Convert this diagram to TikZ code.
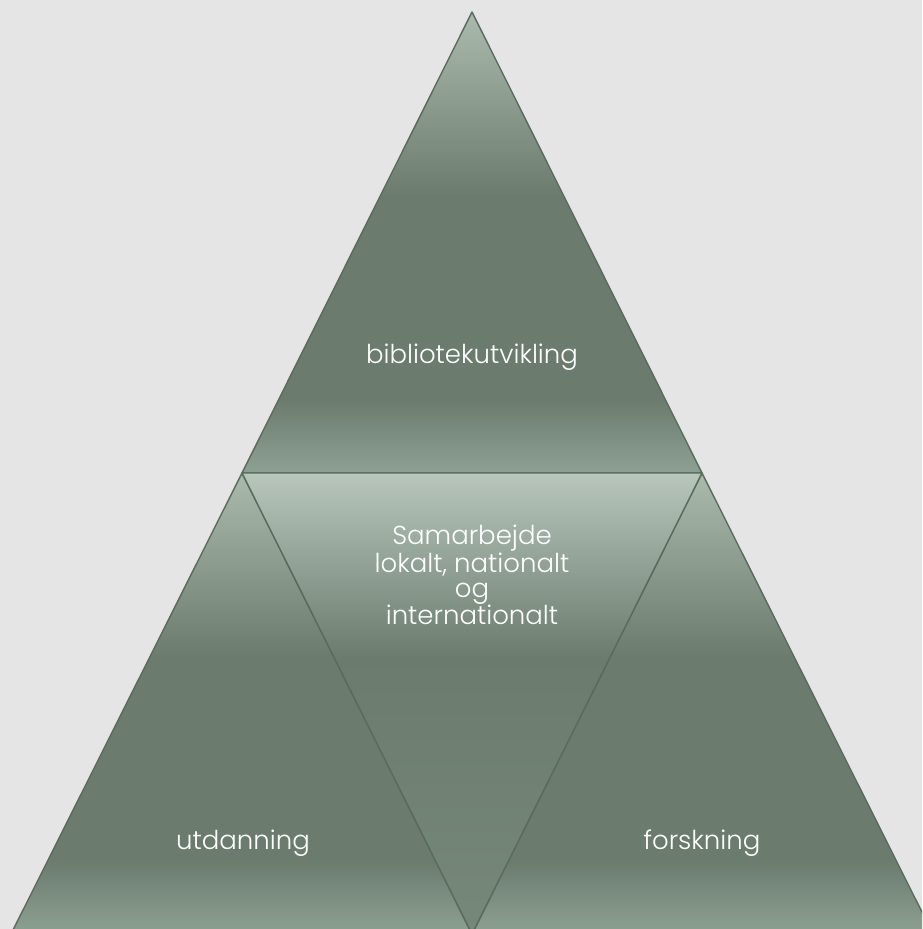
\documentclass[tikz,border=0pt]{standalone}
\usepackage{fontspec}
\newfontfamily\labelfont{Poppins}[UprightFont=* Light]
\usepackage{tikz}

\definecolor{paper}{RGB}{229,229,229}
\definecolor{edgegreen}{RGB}{88,108,93}
\definecolor{tiplight}{RGB}{170,186,173}
\definecolor{centerlight}{RGB}{184,198,187}
\definecolor{bodydark}{RGB}{107,124,111}
\definecolor{footmid}{RGB}{141,161,147}
\definecolor{centerfoot}{RGB}{118,136,122}

\pgfdeclareverticalshading{pyramidshade}{100bp}{color(0bp)=(footmid); color(25bp)=(footmid); color(33bp)=(bodydark); color(55bp)=(bodydark); color(75bp)=(tiplight); color(100bp)=(tiplight)}
\pgfdeclareverticalshading{centershade}{100bp}{color(0bp)=(centerfoot); color(25bp)=(centerfoot); color(55bp)=(bodydark); color(75bp)=(centerlight); color(100bp)=(centerlight)}

\tikzset{
  part/.style={draw=edgegreen, line width=1.4pt, line join=round},
  caption/.style={text=white, font=\labelfont\fontsize{26}{25}\selectfont, align=center}
}

\begin{document}
\begin{tikzpicture}[x=1pt,y=-1pt]
\fill[paper] (0,0) rectangle (922,929);
\useasboundingbox (0,0) rectangle (922,929);
\clip (0,0) rectangle (922,929);
% corners of the pyramid
\coordinate (apex) at (472,12);
\coordinate (midL) at (242,473);
\coordinate (midR) at (702,473);
\coordinate (baseL) at (11,934);
\coordinate (baseM) at (472,934);
\coordinate (baseR) at (933,934);
% the four triangles
\shadedraw[shading=pyramidshade, part] (apex) -- (midL) -- (midR) -- cycle;
\shadedraw[shading=pyramidshade, part] (midL) -- (baseM) -- (baseL) -- cycle;
\shadedraw[shading=pyramidshade, part] (midR) -- (baseR) -- (baseM) -- cycle;
\shadedraw[shading=centershade, part] (midL) -- (midR) -- (baseM) -- cycle;
% texts
\node[caption] (bib) at (472,357) {bibliotekutvikling};
\node[caption] (samarb) at (472,575) {Samarbejde\\lokalt, nationalt\\og\\internationalt};
\node[caption] (utd) at (243,843) {utdanning};
\node[caption] (forsk) at (702,843) {forskning};
\end{tikzpicture}
\end{document}
